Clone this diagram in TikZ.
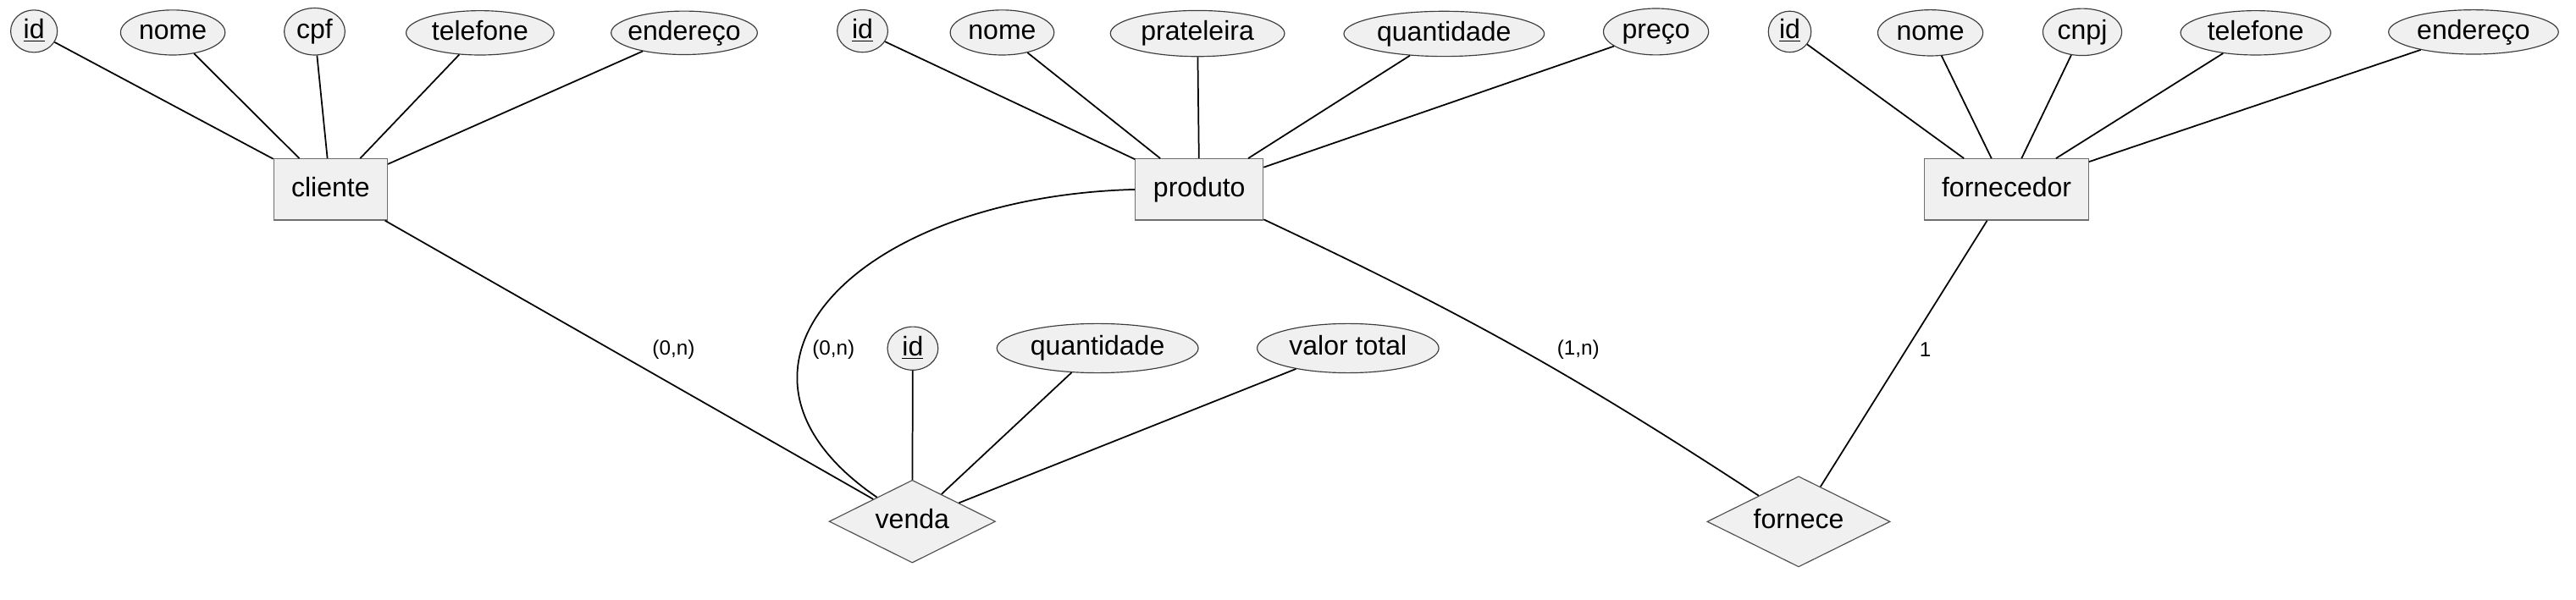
\documentclass[tikz,border=0pt]{standalone}
\usepackage{fontspec}
\setmainfont{Liberation Sans}
\usetikzlibrary{shapes.geometric}
\definecolor{shfill}{RGB}{240,240,240}
\definecolor{elborder}{RGB}{60,60,60}
\definecolor{boxborder}{RGB}{110,110,110}
\definecolor{dmborder}{RGB}{80,80,80}
\newcommand{\tx}[1]{\makebox[0pt]{#1}}
\begin{document}
\begin{tikzpicture}[x=1pt,y=1pt,
  basetext/.style={font=\fontsize{16.5}{19}\selectfont,text height=11.6pt,text depth=3pt},
  attr/.style={basetext,ellipse,draw=elborder,fill=shfill,line width=0.6pt,inner sep=0pt},
  entity/.style={basetext,rectangle,draw=boxborder,fill=shfill,line width=0.6pt,inner sep=0pt,minimum height=37.3pt},
  rel/.style={basetext,diamond,draw=dmborder,fill=shfill,line width=0.6pt,inner sep=0pt},
  lbl/.style={inner sep=0pt,font=\fontsize{12.5}{15}\selectfont},
  conn/.style={draw=black,line width=0.9pt}]
\useasboundingbox (0,0) rectangle (1568,-365);

% entities
\node[entity,minimum width=69.2pt] (cliente) at (201.2,-115.4) {cliente};
\node[entity,minimum width=77.8pt] (produto) at (730,-115.4) {produto};
\node[entity,minimum width=99.8pt] (fornecedor) at (1221.4,-115.4) {fornecedor};

% relationships
\node[rel,minimum width=101.2pt,minimum height=50.4pt] (venda) at (555.3,-317.6) {\tx{venda}};
\node[rel,minimum width=111.4pt,minimum height=55.2pt] (fornece) at (1094.8,-317.7) {\tx{fornece}};

% cliente attributes
\node[attr,minimum width=28.4pt,minimum height=25.8pt] (cid) at (20.7,-19) {\tx{\underline{id}}};
\node[attr,minimum width=63.6pt,minimum height=27.4pt] (cnome) at (105.2,-19.8) {\tx{nome}};
\node[attr,minimum width=37pt,minimum height=28.6pt] (ccpf) at (191.5,-19.2) {\tx{cpf}};
\node[attr,minimum width=90pt,minimum height=27pt] (ctel) at (292.2,-20) {\tx{telefone}};
\node[attr,minimum width=89pt,minimum height=26.5pt] (cend) at (416.5,-20) {\tx{endereço}};

% produto attributes
\node[attr,minimum width=30.8pt,minimum height=25.8pt] (pid) at (525,-18.9) {\tx{\underline{id}}};
\node[attr,minimum width=63.2pt,minimum height=27.4pt] (pnome) at (610,-19.8) {\tx{nome}};
\node[attr,minimum width=106pt,minimum height=28pt] (pprat) at (728.9,-20.4) {\tx{prateleira}};
\node[attr,minimum width=122pt,minimum height=27.5pt] (pqtd) at (879,-20.6) {\tx{quantidade}};
\node[attr,minimum width=64pt,minimum height=28.3pt] (ppreco) at (1008,-19.3) {\tx{preço}};

% fornecedor attributes
\node[attr,minimum width=26pt,minimum height=25pt] (fid) at (1089.4,-19.3) {\tx{\underline{id}}};
\node[attr,minimum width=64pt,minimum height=28pt] (fnome) at (1175,-20) {\tx{nome}};
\node[attr,minimum width=48pt,minimum height=28.6pt] (fcnpj) at (1267.5,-19.5) {\tx{cnpj}};
\node[attr,minimum width=91.4pt,minimum height=27pt] (ftel) at (1373,-20) {\tx{telefone}};
\node[attr,minimum width=103.4pt,minimum height=27pt] (fend) at (1505.6,-19.5) {\tx{endereço}};

% venda attributes
\node[attr,minimum width=30.8pt,minimum height=26.4pt] (vid) at (555.6,-212.2) {\tx{\underline{id}}};
\node[attr,minimum width=122.6pt,minimum height=30pt] (vqtd) at (668.1,-212.1) {\tx{quantidade}};
\node[attr,minimum width=110.6pt,minimum height=30pt] (vval) at (820.5,-212.1) {\tx{valor total}};

% attribute connectors
\foreach \a in {cid,cnome,ccpf,ctel,cend} \draw[conn] (\a) -- (cliente);
\foreach \a in {pid,pnome,pprat,pqtd,ppreco} \draw[conn] (\a) -- (produto);
\foreach \a in {fid,fnome,fcnpj,ftel,fend} \draw[conn] (\a) -- (fornecedor);
\foreach \a in {vid,vqtd,vval} \draw[conn] (\a) -- (venda);

% relationship connectors
\draw[conn] (cliente) -- (venda);
\draw[conn] (produto.west) .. controls (520,-120) and (420,-225) .. (venda);
\draw[conn] (produto) to[bend left=4] (fornece);
\draw[conn] (fornecedor) -- (fornece);

% cardinality labels
\node[lbl] (l1) at (410,-213) {(0,n)};
\node[lbl] (l2) at (507.3,-213) {(0,n)};
\node[lbl] (l3) at (960.7,-213) {(1,n)};
\node[lbl] (l4) at (1171.9,-213) {1};
\end{tikzpicture}
\end{document}
